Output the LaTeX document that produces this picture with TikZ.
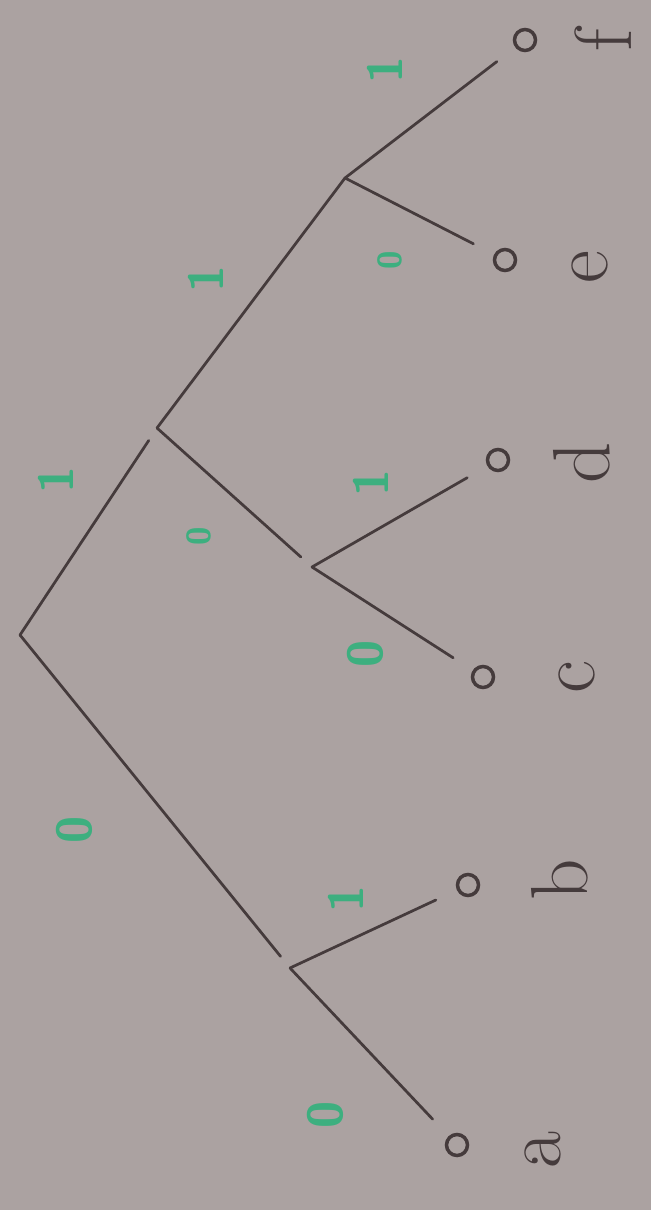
\documentclass[tikz,border=0pt]{standalone}
\usepackage{tikz}
\usetikzlibrary{positioning}
\definecolor{paper}{HTML}{ABA2A1}
\definecolor{pencil}{HTML}{453B3C}
\definecolor{marker}{HTML}{3DAF7F}

\begin{document}
\begin{tikzpicture}[
  x=0.2mm,y=-0.2mm,
  br/.style={line width=0.55mm,draw=pencil,line cap=round},
  inner/.style={br,shorten >=3mm},
  twig/.style={br,shorten >=5mm},
  leaf/.style={circle,draw=pencil,line width=0.7mm,minimum size=4.2mm,inner sep=0pt,outer sep=0pt},
  sym/.style={text=pencil,rotate=90,font=\fontsize{46}{46}\selectfont,inner sep=0pt},
  bit/.style={text=marker,rotate=90,font=\sffamily\bfseries\fontsize{28}{28}\selectfont,inner sep=0pt},
  bitsm/.style={bit,font=\sffamily\bfseries\fontsize{19}{19}\selectfont}
]
\fill[paper] (0,0) rectangle (651,1210);
\useasboundingbox (0,0) rectangle (651,1210);

% inner nodes of the code tree
\coordinate (root) at (20,635);
\coordinate (n0) at (290,968);
\coordinate (n1) at (157,428);
\coordinate (n10) at (312,567);
\coordinate (n11) at (345,178);

% leaves
\node[leaf] (a) at (457,1145) {};
\node[leaf] (b) at (468,885) {};
\node[leaf] (c) at (483,677) {};
\node[leaf] (d) at (498,460) {};
\node[leaf] (e) at (505,260) {};
\node[leaf] (f) at (525,40) {};
\node[sym] (la) at (543,1150) {a};
\node[sym] (lb) at (560,880) {b};
\node[sym] (lc) at (577,677) {c};
\node[sym] (ld) at (582,463) {d};
\node[sym] (le) at (590,267) {e};
\node[sym] (lf) at (603,40) {f};

\draw[inner] (root) -- node[shift={(-81,28)},bit] {0} (n0);
\draw[inner] (root) -- node[shift={(-33,-52)},bit] {1} (n1);
\draw[br] (n1) -- node[shift={(-45,-24)},bit] {1} (n11);
\draw[inner] (n1) -- node[shift={(-36,39)},bitsm] {0} (n10);
\draw[twig] (n11) -- node[shift={(-46,-42)},bit] {1} (f);
\draw[twig] (n11) -- node[shift={(-30,44)},bitsm] {0} (e);
\draw[twig] (n10) -- node[shift={(-30,-33)},bit] {1} (d);
\draw[twig] (n10) -- node[shift={(-28,35)},bit] {0} (c);
\draw[twig] (n0) -- node[shift={(-28,-30)},bit] {1} (b);
\draw[twig] (n0) -- node[shift={(-44,62)},bit] {0} (a);
\end{tikzpicture}
\end{document}
